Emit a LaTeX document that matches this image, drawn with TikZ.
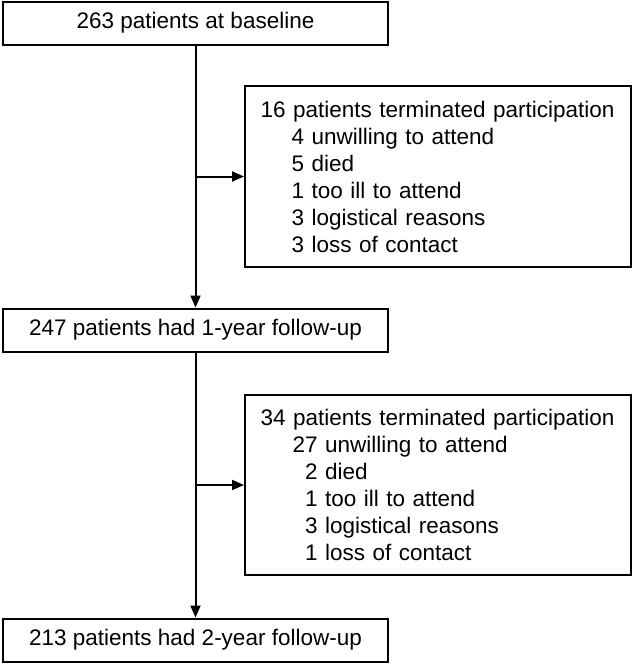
\documentclass[tikz,border=0pt]{standalone}
\usepackage{fontspec}
\setmainfont{Liberation Sans}
\usetikzlibrary{arrows.meta}

\begin{document}
\begin{tikzpicture}[x=1pt, y=1pt, >={Triangle[length=12pt,width=10pt]},
  every path/.style={line width=2pt},
  mainbox/.style={draw, line width=2pt, minimum width=385pt, minimum height=43pt, inner sep=0pt,
    font=\fontsize{22.5}{27}\selectfont},
  sidebox/.style={draw, line width=2pt, anchor=west, align=left, text width=355pt, inner xsep=15.5pt,
    font=\fontsize{22.5}{27}\selectfont}]
  \useasboundingbox (0,0) rectangle (633,-664);
  \node[mainbox] (base) at (195.5,-23) {263 patients at baseline};
  \node[mainbox] (fuone) at (195.5,-330) {247 patients had 1-year follow-up};
  \node[mainbox] (futwo) at (195.5,-640) {213 patients had 2-year follow-up};
  \node[sidebox, minimum height=181pt] (dropone) at (244,-176.5) {16 patients terminated participation\\
    \hspace*{31pt}4 unwilling to attend\\
    \hspace*{31pt}5 died\\
    \hspace*{31pt}1 too ill to attend\\
    \hspace*{31pt}3 logistical reasons\\
    \hspace*{31pt}3 loss of contact};
  \node[sidebox, minimum height=180pt] (droptwo) at (244,-485) {34 patients terminated participation\\
    \hspace*{32pt}27 unwilling to attend\\
    \hspace*{32pt}\phantom{0}2 died\\
    \hspace*{32pt}\phantom{0}1 too ill to attend\\
    \hspace*{32pt}\phantom{0}3 logistical reasons\\
    \hspace*{32pt}\phantom{0}1 loss of contact};
  \draw[->] (base) -- (fuone);
  \draw[->] (fuone) -- (futwo);
  \draw[->] (base.south |- dropone.west) -- (dropone.west);
  \draw[->] (fuone.south |- droptwo.west) -- (droptwo.west);
\end{tikzpicture}
\end{document}
